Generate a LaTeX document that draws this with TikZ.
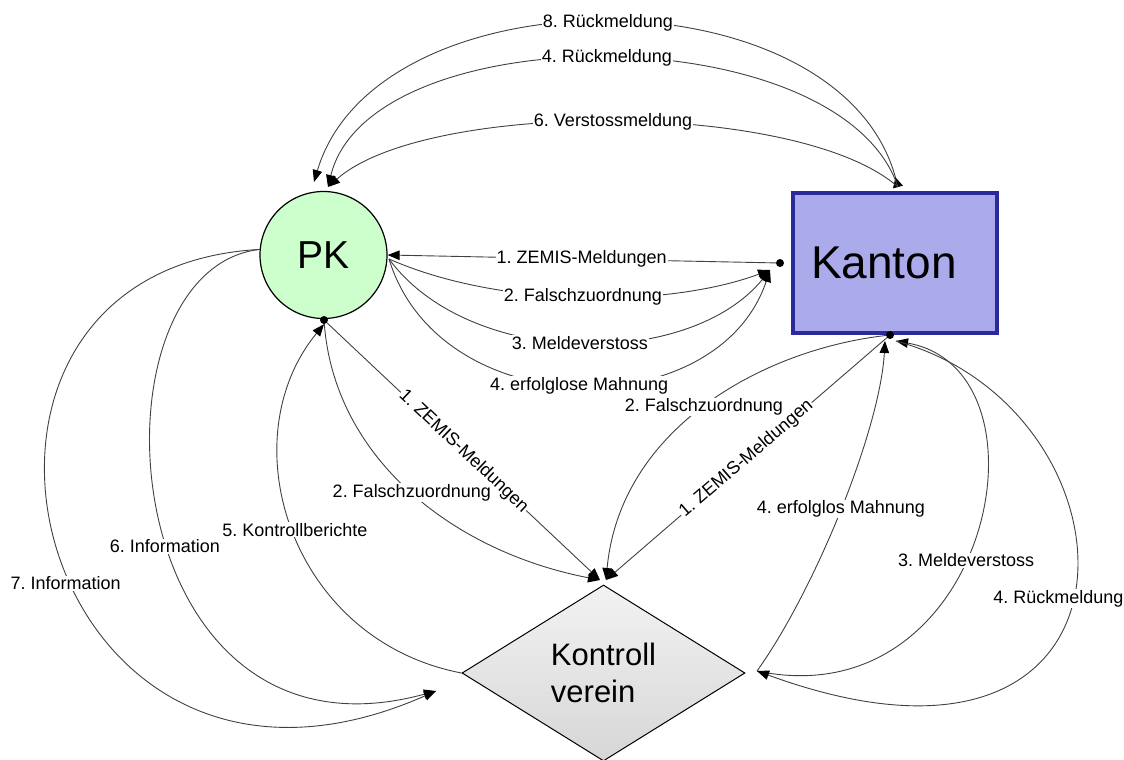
\documentclass[tikz,border=0pt]{standalone}
\usepackage{fontspec}
\setmainfont{Liberation Sans}
\usetikzlibrary{arrows.meta,shapes.geometric}
\definecolor{pkfill}{HTML}{CCFFCC}
\definecolor{kfill}{HTML}{ABABEB}
\definecolor{kborder}{HTML}{2A2A9C}
\definecolor{linec}{HTML}{404040}
\frenchspacing
\begin{document}
\begin{tikzpicture}[x=1pt,y=-1pt,
  conn/.style={draw=linec, line width=0.9pt, -{Triangle[length=12pt,width=9.5pt,color=black]}},
  lbl/.style={fill=white, inner sep=1pt, text=black, font=\fontsize{18}{21}\selectfont},
  dot/.style={circle, fill=black, inner sep=0pt, minimum size=8pt}]
\useasboundingbox (0,0) rectangle (1124,760);

% main nodes
\node[circle, draw=black, line width=1.2pt, fill=pkfill, minimum size=127pt, inner sep=0pt,
      font=\fontsize{39}{45}\selectfont] (pk) at (323.5,255) {PK};
\node[rectangle, draw=kborder, line width=4pt, fill=kfill, minimum width=204pt, minimum height=140pt,
      inner sep=0pt, font=\fontsize{46}{52}\selectfont] (kanton) at (895,263) {\kern-22pt Kanton};
\node[diamond, draw=black, line width=1pt, top color=gray!10, bottom color=gray!32,
      minimum width=283pt, minimum height=176pt, shape aspect=1.6, inner sep=0pt, align=left,
      font=\fontsize{31}{37}\selectfont] (kv) at (603.5,673) {Kontroll\\verein};

% connection points
\node[dot] (pkdot) at (324,320) {};
\node[dot] (kdotL) at (780,263) {};
\node[dot] (kdotB) at (890,335) {};
\coordinate (kTop) at (898,187);
\coordinate (pkIn8) at (314,182);
\coordinate (pkIn46) at (328,187);
\coordinate (pkR) at (389,259);
\coordinate (kInL) at (770,270);
\coordinate (kvInL) at (600,580);
\coordinate (kvInR) at (606,580);
\coordinate (kvInfo) at (436,691);
\coordinate (kvR) at (757,671);
\coordinate (kInBL) at (885,341);
\coordinate (kInBR) at (896,341);

% top arcs Kanton -> PK
\draw[conn, {Triangle[reversed,length=10pt,width=10pt,color=black]}-{Triangle[length=12pt,width=9.5pt,color=black]}]
  (kTop) .. controls (840,-31) and (377,-31) .. node[lbl]{8. Rückmeldung} (pkIn8);
\draw[conn] (kTop) .. controls (840,15) and (370,15) .. node[lbl]{4. Rückmeldung} (pkIn46);
\draw[conn] (kTop) .. controls (800,100) and (426,100) .. node[lbl]{6. Verstossmeldung} (pkIn46);

% middle PK <-> Kanton
\draw[conn] (kdotL) -- node[lbl]{1. ZEMIS-Meldungen} (pk.east);
\draw[conn] (pkR) .. controls (500,308) and (668,308) .. node[lbl]{2. Falschzuordnung} (kInL);
\draw[conn] (pkR) .. controls (470,369) and (690,369) .. node[lbl]{3. Meldeverstoss} (kInL);
\draw[conn] (pkR) .. controls (440,426) and (718,426) .. node[lbl]{4. erfolglose Mahnung} (kInL);

% PK <-> Kontrollverein
\draw[conn] (pkdot) -- node[lbl, sloped]{1. ZEMIS-Meldungen} (kvInL);
\draw[conn] (pkdot) .. controls (335,460) and (455,552) .. node[lbl]{2. Falschzuordnung} (kvInL);
\draw[conn] (kv.west) .. controls (290,640) and (229,440) .. node[lbl, xshift=2pt]{5. Kontrollberichte} (pkdot.south);
\draw[conn] (pk.175) .. controls (80,270) and (110,780) .. node[lbl, pos=0.55, xshift=-3pt]{6. Information} (kvInfo);
\draw[conn] (pk.175) .. controls (-110,270) and (30,870) .. node[lbl, pos=0.55, xshift=-6pt]{7. Information} (kvInfo);

% Kanton <-> Kontrollverein
\draw[conn] (kdotB) -- node[lbl, sloped]{1. ZEMIS-Meldungen} (kvInR);
\draw[conn] (kdotB) .. controls (760,350) and (620,430) .. node[lbl]{2. Falschzuordnung} (kvInR);
\draw[conn] (kvR) .. controls (815,590) and (880,430) .. node[lbl]{4. erfolglos Mahnung} (kInBL);
\draw[conn] (kvR) .. controls (990,720) and (1060,370) .. node[lbl, pos=0.45]{3. Meldeverstoss} (kInBR);
\draw[conn] (kInBR) .. controls (1150,410) and (1165,820) .. node[lbl, pos=0.52, xshift=-14pt]{4. Rückmeldung} (kvR);
\end{tikzpicture}
\end{document}
